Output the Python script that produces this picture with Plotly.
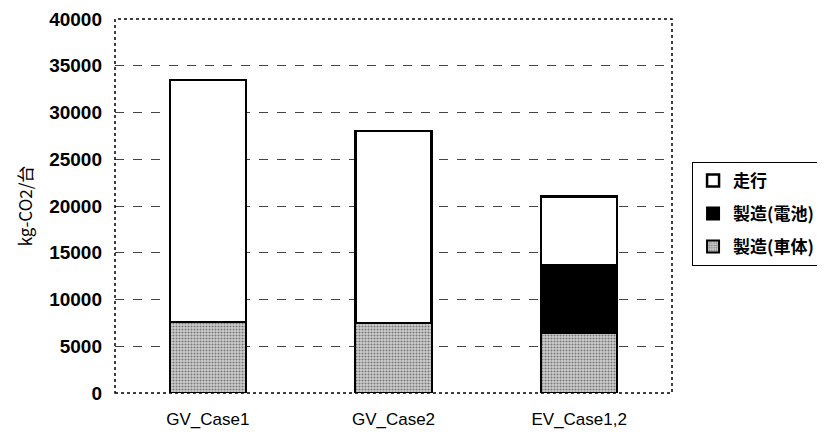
import plotly.graph_objects as go

categories = ["GV_Case1", "GV_Case2", "EV_Case1,2"]
series_names = ["製造(車体)", "製造(電池)", "走行"]
body = [7600, 7500, 6400]
battery = [0, 0, 7300]
driving = [25900, 20500, 7300]
y_ticks = [0, 5000, 10000, 15000, 20000, 25000, 30000, 35000, 40000]

FONT = "Liberation Sans, Arial, Noto Sans CJK JP"
CJK = "Noto Sans CJK JP, Liberation Sans"

fig = go.Figure()
fig.add_trace(go.Bar(
    x=categories, y=body, name=series_names[0], legendgroup="c", legendrank=3,
    marker=dict(color="#cccccc", line=dict(color="black", width=2),
                pattern=dict(shape=".", fgcolor="#222222", bgcolor="#d0d0d0", size=3, solidity=0.4)),
))
fig.add_trace(go.Bar(
    x=categories, y=battery, name=series_names[1], legendgroup="b", legendrank=2,
    marker=dict(color="black", line=dict(color="black", width=2)),
))
fig.add_trace(go.Bar(
    x=categories, y=driving, name=series_names[2], legendgroup="a", legendrank=1,
    marker=dict(color="white", line=dict(color="black", width=2.5)),
))

fig.update_layout(
    barmode="stack",
    bargap=0.59,
    width=817, height=425,
    margin=dict(l=107, r=153, t=11, b=40, autoexpand=False),
    plot_bgcolor="white", paper_bgcolor="white",
    font=dict(family=FONT, color="black"),
    showlegend=True,
    legend=dict(
        x=1.036, y=0.618, xanchor="left", yanchor="top",
        traceorder="grouped",
        font=dict(family=CJK, size=17, color="black", weight="bold"),
        bordercolor="black", borderwidth=1, bgcolor="white",
        itemwidth=30, tracegroupgap=8,
    ),
    shapes=[dict(type="rect", xref="paper", yref="paper", x0=0, y0=0, x1=1, y1=1,
                 line=dict(color="black", width=1.5, dash="dot"), layer="above")],
)
fig.update_xaxes(
    showgrid=False, showline=False, automargin=False,
    tickfont=dict(family=FONT, size=17, color="black"),
    ticks="", ticklabelstandoff=14,
)
fig.update_yaxes(
    range=[0, 40000], tickvals=y_ticks, automargin=False,
    tickformat="d", ticklabeloverflow="allow",
    showgrid=True, gridcolor="#444", griddash="dash", gridwidth=1,
    zeroline=False, showline=False,
    ticks="", ticklabelstandoff=12,
    tickfont=dict(family=FONT, size=19, color="black", weight="bold"),
    title=dict(text="kg-CO2/台", font=dict(family=CJK, size=17, color="black"), standoff=12),
)

fig.write_html("out.html")
